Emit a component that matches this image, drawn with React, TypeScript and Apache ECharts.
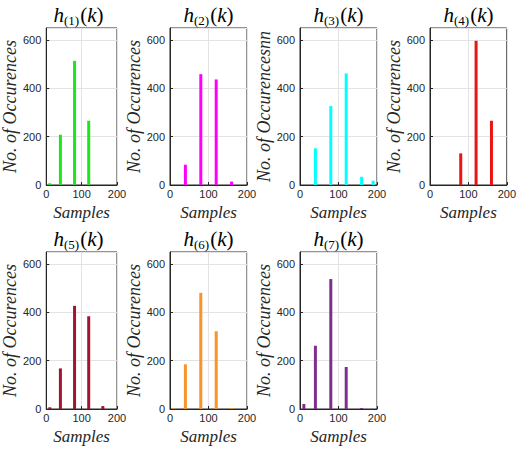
import React, { useEffect, useRef } from "react";
import * as echarts from "echarts";

// Histogram bins (sample positions) shared by all seven panels
const binCenters = [10, 40, 80, 120, 160, 190];

// Occurrence counts per bin for each h_(i)(k)
const h1Counts = [7, 208, 514, 266, 0, 0];
const h2Counts = [0, 84, 459, 437, 14, 0];
const h3Counts = [0, 152, 327, 462, 34, 18];
const h4Counts = [0, 0, 131, 597, 266, 0];
const h5Counts = [7, 168, 427, 384, 12, 0];
const h6Counts = [3, 185, 481, 322, 4, 0];
const h7Counts = [21, 262, 538, 174, 4, 0];

const panelIndices = ["1", "2", "3", "4", "5", "6", "7"];
const panelCounts = [h1Counts, h2Counts, h3Counts, h4Counts, h5Counts, h6Counts, h7Counts];
const yLabels = [
  "No. of Occurences",
  "No. of Occurences",
  "No. of Occurencesnn",
  "No. of Occurences",
  "No. of Occurences",
  "No. of Occurences",
  "No. of Occurences",
];
const xTicks = [0, 100, 200];
const yTicks = [0, 200, 400, 600];

const barColors = ["#1de61d", "#ff00ff", "#00ffff", "#ec1313", "#a2142f", "#f5952a", "#7e2f8e"];

// Panel placement
const plotW = 77;
const plotH = 157;
const panelLefts = [40, 170, 300, 430, 40, 170, 300];
const panelTops = [28, 28, 28, 28, 252, 252, 252];

const serif = "Liberation Serif";
const sans = "Liberation Sans";
const axisInk = "#262626";

export default function App() {
  const ref = useRef<HTMLDivElement>(null);

  useEffect(() => {
    if (!ref.current) return;
    const chart = echarts.init(ref.current, undefined, { renderer: "svg" });

    const grids: any[] = [];
    const xAxes: any[] = [];
    const yAxes: any[] = [];
    const series: any[] = [];
    const graphics: any[] = [];

    panelCounts.forEach((counts, i) => {
      grids.push({
        left: panelLefts[i],
        top: panelTops[i],
        width: plotW,
        height: plotH,
        show: true,
        borderColor: axisInk,
        borderWidth: 1,
        backgroundColor: "#ffffff",
      });
      xAxes.push({
        gridIndex: i,
        type: "value",
        min: xTicks[0],
        max: xTicks[xTicks.length - 1],
        interval: 100,
        name: "Samples",
        nameLocation: "middle",
        nameGap: 19,
        nameTextStyle: { fontFamily: serif, fontStyle: "italic", fontSize: 17, color: axisInk },
        axisLine: { show: true, onZero: false, lineStyle: { color: axisInk } },
        axisTick: { show: true, inside: true, length: 3, lineStyle: { color: axisInk } },
        axisLabel: { fontFamily: sans, fontSize: 11, color: axisInk, margin: 3 },
        splitLine: { show: true, lineStyle: { color: "#e3e3e3", width: 1 } },
      });
      yAxes.push({
        gridIndex: i,
        type: "value",
        min: 0,
        max: 650,
        interval: 200,
        name: yLabels[i],
        nameLocation: "middle",
        nameGap: 26,
        nameRotate: 90,
        nameTextStyle: { fontFamily: serif, fontStyle: "italic", fontSize: 18, color: axisInk },
        axisLine: { show: true, lineStyle: { color: axisInk } },
        axisTick: { show: true, inside: true, length: 3, lineStyle: { color: axisInk } },
        axisLabel: {
          fontFamily: sans,
          fontSize: 11,
          color: axisInk,
          margin: 5,
          showMaxLabel: false,
          formatter: (v: number) => (yTicks.includes(v) ? String(v) : ""),
        },
        splitLine: { show: true, lineStyle: { color: "#e3e3e3", width: 1 } },
      });
      series.push({
        type: "bar",
        xAxisIndex: i,
        yAxisIndex: i,
        barWidth: 3,
        itemStyle: { color: barColors[i] },
        data: binCenters
          .map((x, j) => [x, counts[j]])
          .filter((d) => d[1] > 0),
      });
      // Panel heading h_(i)(k)
      graphics.push({
        type: "text",
        x: panelLefts[i] + plotW / 2,
        y: panelTops[i] - 13,
        style: {
          text: `{h|h}{s|(${panelIndices[i]})}{p|(}{h|k}{p|)}`,
          align: "center",
          verticalAlign: "middle",
          rich: {
            h: { fontFamily: serif, fontStyle: "italic", fontSize: 21, fill: "#000" },
            p: { fontFamily: serif, fontSize: 21, fill: "#000" },
            s: { fontFamily: serif, fontSize: 13, fill: "#000", padding: [11, 1, 0, 0] },
          },
        },
      });
    });

    chart.setOption({
      animation: false,
      backgroundColor: "#ffffff",
      grid: grids,
      xAxis: xAxes,
      yAxis: yAxes,
      series,
      graphic: graphics,
    });

    return () => chart.dispose();
  }, []);

  return (
    <div
      ref={ref}
      style={{ position: "fixed", left: 0, top: 0, width: 519, height: 453 }}
    />
  );
}
